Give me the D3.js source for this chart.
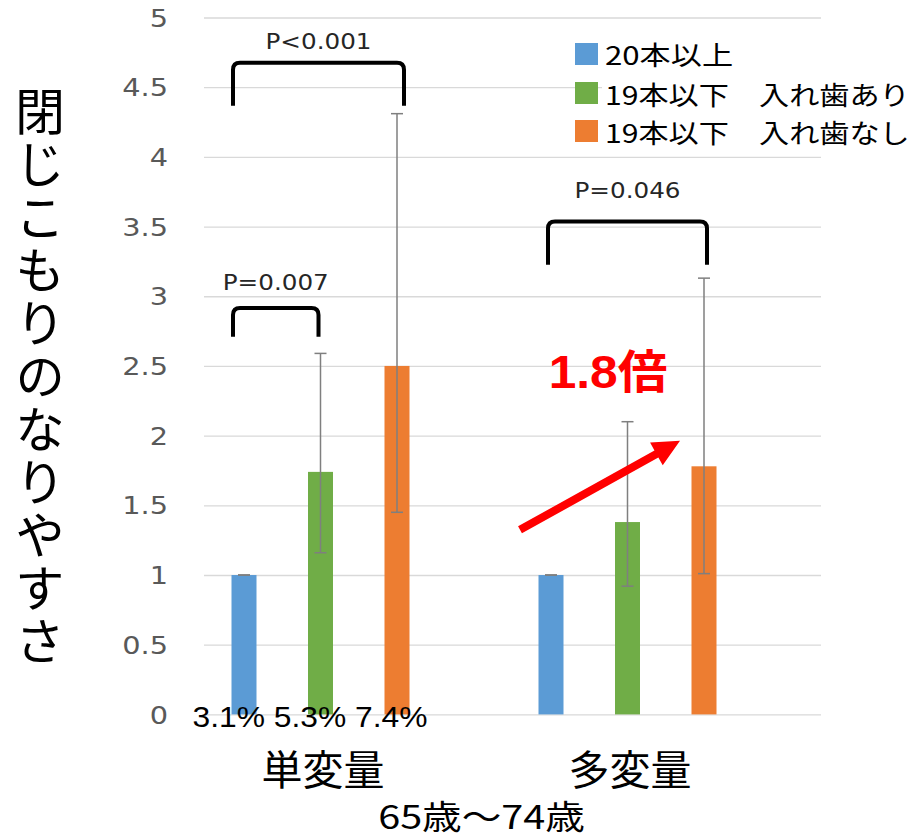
<!DOCTYPE html>
<html><head><meta charset="utf-8">
<script src="https://cdn.jsdelivr.net/npm/d3@7"></script>
<style>html,body{margin:0;padding:0;background:#fff;}svg{display:block;}</style>
</head><body>
<script>
// ---- data ----
const categories = ["単変量", "多変量"];
const seriesNames = ["20本以上", "19本以下　入れ歯あり", "19本以下　入れ歯なし"];
const seriesColors = ["#5B9BD5", "#70AD47", "#ED7D31"];
const oddsRatio = [[1, 1.74, 2.50], [1, 1.38, 1.78]];
const ciLower   = [[1, 1.16, 1.45], [1, 0.92, 1.01]];
const ciUpper   = [[1, 2.59, 4.31], [1, 2.10, 3.13]];
const prevalence = ["3.1%", "5.3%", "7.4%"];
const pLabels = ["P<0.001", "P=0.007", "P=0.046"];
const yTicks = [0, 0.5, 1, 1.5, 2, 2.5, 3, 3.5, 4, 4.5, 5];
const yTitle = "閉じこもりのなりやすさ";
const xTitle = "65歳～74歳";
const ratioLabel = "1.8倍";

// ---- layout ----
const W = 917, H = 839;
const svg = d3.select("body").append("svg").attr("width", W).attr("height", H);

const y = d3.scaleLinear().domain([0, 5]).range([714.4, 17.5]);
const x0 = d3.scaleBand().domain(categories).range([166.5, 780.5]);
const x1 = d3.scalePoint().domain([0, 1, 2]).range([-76, 77]);
const barW = 25;
const cx = (g, s) => x0(categories[g]) + x0.bandwidth() / 2 + x1(s);
const gx = g => x0(categories[g]) + x0.bandwidth() / 2;

function stext(parent, x, yy, txt, sx) {
  return parent.append("text").attr("transform", `translate(${x},${yy}) scale(${sx},1)`).text(txt);
}

// gridlines + y ticks (via axis)
const gridX0 = 204, gridX1 = 821;
const yAxis = d3.axisLeft(y).tickValues(yTicks).tickSize(0).tickFormat(d3.format("~g"));
const ag = svg.append("g").attr("transform", `translate(${gridX0},0)`).call(yAxis);
ag.select(".domain").remove();
ag.selectAll(".tick line").attr("x2", gridX1 - gridX0).attr("stroke", "#D9D9D9").attr("stroke-width", 1.3);
ag.selectAll(".tick text")
  .attr("x", null).attr("dy", null)
  .attr("transform", `translate(-36,0) scale(1.2,1)`)
  .attr("dominant-baseline", "central")
  .attr("text-anchor", "end")
  .attr("fill", "#595959")
  .style("font-family", "'DejaVu Sans', sans-serif")
  .style("font-size", "24px");

// legend background (covers gridlines)
svg.append("rect").attr("x", 602).attr("y", 30).attr("width", W - 602).attr("height", 118).attr("fill", "#fff");

// bars
const flat = [];
categories.forEach((c, g) => seriesNames.forEach((s, i) => flat.push({g, i, v: oddsRatio[g][i], lo: ciLower[g][i], hi: ciUpper[g][i]})));
svg.append("g").selectAll("rect").data(flat).join("rect")
  .attr("x", d => cx(d.g, d.i) - barW / 2)
  .attr("width", barW)
  .attr("y", d => y(d.v))
  .attr("height", d => y(0) - y(d.v))
  .attr("fill", d => seriesColors[d.i]);

// error bars
const eb = svg.append("g").attr("stroke", "#7F7F7F").attr("stroke-width", 1.5).attr("fill", "none");
flat.forEach(d => {
  const xc = cx(d.g, d.i);
  eb.append("line").attr("x1", xc).attr("x2", xc).attr("y1", y(d.hi)).attr("y2", y(d.lo));
  eb.append("line").attr("x1", xc - 6).attr("x2", xc + 6).attr("y1", y(d.hi)).attr("y2", y(d.hi));
  eb.append("line").attr("x1", xc - 6).attr("x2", xc + 6).attr("y1", y(d.lo)).attr("y2", y(d.lo));
});

// significance brackets
const brackets = [
  {g: 0, a: 0, b: 2, top: 4.676, bot: 4.366, label: pLabels[0], dxa: -11, dxb: 7, ty: 49},
  {g: 0, a: 0, b: 1, top: 2.915, bot: 2.71, label: pLabels[1], dxa: -11, dxb: -2, ty: 290},
  {g: 1, a: 0, b: 2, top: 3.537, bot: 3.226, label: pLabels[2], dxa: -3, dxb: 3, ty: 198}
];
const r = 7;
brackets.forEach(bk => {
  const xa = cx(bk.g, bk.a) + bk.dxa, xb = cx(bk.g, bk.b) + bk.dxb;
  const yt = y(bk.top), yb = y(bk.bot);
  svg.append("path")
    .attr("d", `M${xa},${yb} L${xa},${yt + r} Q${xa},${yt} ${xa + r},${yt} L${xb - r},${yt} Q${xb},${yt} ${xb},${yt + r} L${xb},${yb}`)
    .attr("fill", "none").attr("stroke", "#000").attr("stroke-width", 4);
  stext(svg, (xa + xb) / 2, bk.ty, bk.label, 1.12)
    .attr("text-anchor", "middle").attr("fill", "#262626")
    .style("font-family", "'DejaVu Sans', sans-serif").style("font-size", "22px");
});

// prevalence labels
stext(svg, gx(0) - 10, 727, prevalence.join(" "), 1.06)
  .attr("text-anchor", "middle").attr("fill", "#000")
  .style("font-family", "'Liberation Sans', Arial, sans-serif").style("font-size", "30px");

// category labels
svg.append("g").selectAll("text").data(categories).join("text")
  .attr("x", (d, g) => gx(g) + 3)
  .attr("y", 767)
  .attr("dominant-baseline", "central")
  .attr("text-anchor", "middle")
  .style("font-family", "'Noto Sans CJK JP', sans-serif").style("font-size", "41px")
  .text(d => d);

// x title
stext(svg, (gx(0) + gx(1)) / 2 + 8, 815, xTitle, 1.2)
  .attr("dominant-baseline", "central").attr("text-anchor", "middle")
  .style("font-family", "'Noto Sans CJK JP', sans-serif").style("font-size", "33px");

// y title (vertical)
svg.append("text")
  .attr("x", 40).attr("y", 86)
  .attr("writing-mode", "vertical-rl")
  .style("text-orientation", "upright")
  .style("letter-spacing", "3px")
  .style("font-family", "'Noto Sans CJK JP', sans-serif").style("font-size", "50px")
  .text(yTitle);

// legend
const lg = svg.append("g");
const legY = [54, 93, 131];
seriesNames.forEach((s, i) => {
  lg.append("rect").attr("x", 575).attr("y", legY[i] - 11).attr("width", 23).attr("height", 22).attr("fill", seriesColors[i]);
  stext(lg, 605, legY[i], s, i === 0 ? 1.2 : 1.16).attr("dominant-baseline", "central")
    .style("font-family", "'Noto Sans CJK JP', sans-serif").style("font-size", "26px");
});

// arrow annotation
const ax1 = gx(1) - 107, ay1 = y(1.324), ax2 = gx(1) + 53, ay2 = y(1.963);
const dx = ax2 - ax1, dy = ay2 - ay1, L = Math.hypot(dx, dy);
const ux = dx / L, uy = dy / L, nx = -uy, ny = ux;
const sw = 4, hl = 27, hw = 13;
const bx = ax2 - ux * hl, by = ay2 - uy * hl;
const pts = [
  [ax1 + nx * sw, ay1 + ny * sw], [bx + nx * sw, by + ny * sw], [bx + nx * hw, by + ny * hw],
  [ax2, ay2], [bx - nx * hw, by - ny * hw], [bx - nx * sw, by - ny * sw], [ax1 - nx * sw, ay1 - ny * sw]
];
svg.append("path").attr("d", d3.line()(pts) + "Z").attr("fill", "#FF0000");

stext(svg, gx(1) - 19, 388, ratioLabel, 1.08)
  .attr("text-anchor", "middle").attr("fill", "#FF0000").attr("font-weight", "bold")
  .style("font-family", "'Liberation Sans', 'Noto Sans CJK JP', sans-serif").style("font-size", "46px");
</script>
</body></html>
